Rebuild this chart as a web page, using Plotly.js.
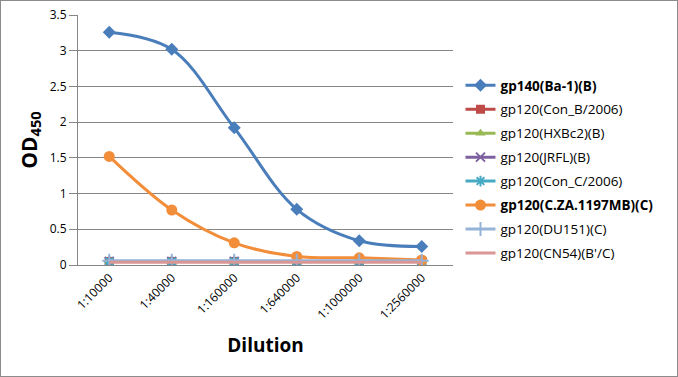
<!DOCTYPE html>
<html>
<head>
<meta charset="utf-8">
<script src="https://cdn.plot.ly/plotly-3.0.1.min.js"></script>
<style>
html,body{margin:0;padding:0;background:#fff;}
#chart{width:678px;height:377px;box-sizing:border-box;border:1px solid #8c8c8c;}
</style>
</head>
<body>
<div id="chart"></div>
<script>
const dilutions = ["1:10000","1:40000","1:160000","1:640000","1:1000000","1:2560000"];
const seriesNames = ["<b>gp140(Ba-1)(B)</b>","gp120(Con_B/2006)","gp120(HXBc2)(B)","gp120(JRFL)(B)","gp120(Con_C/2006)","<b>gp120(C.ZA.1197MB)(C)</b>","gp120(DU151)(C)","gp120(CN54)(B'/C)"];
const gp140_Ba1 = [3.26, 3.02, 1.92, 0.78, 0.34, 0.26];
const gp120_ConB = [0.05, 0.05, 0.05, 0.05, 0.05, 0.05];
const gp120_HXBc2 = [0.05, 0.05, 0.05, 0.05, 0.05, 0.05];
const gp120_JRFL = [0.05, 0.05, 0.05, 0.05, 0.05, 0.05];
const gp120_ConC = [0.05, 0.05, 0.05, 0.05, 0.05, 0.05];
const gp120_CZA = [1.52, 0.77, 0.31, 0.12, 0.10, 0.07];
const gp120_DU151 = [0.06, 0.06, 0.06, 0.06, 0.06, 0.06];
const gp120_CN54 = [0.04, 0.04, 0.04, 0.04, 0.04, 0.04];

const values = [gp140_Ba1, gp120_ConB, gp120_HXBc2, gp120_JRFL, gp120_ConC, gp120_CZA, gp120_DU151, gp120_CN54];
const colors = ["#4a7ebb","#be4b48","#98b954","#7d60a0","#46aac5","#f28d3a","#95b3d7","#d99694"];
const symbols = ["diamond","square","triangle-up","x-thin-open","asterisk-open","circle","cross-thin-open","none"];
const sizes = [10,9,9,9,9,11,10,0];

const traces = values.map((v,i)=>({
  type:"scatter",
  mode: symbols[i]==="none" ? "lines" : "lines+markers",
  x: dilutions,
  y: v,
  name: seriesNames[i],
  legendgroup: "g"+i,
  line:{color:colors[i], width:3, shape:"spline", smoothing:1},
  marker:{symbol:symbols[i], size:sizes[i], color:colors[i], line:{color:colors[i], width:(symbols[i].indexOf("open")>=0?2:0)}}
}));

const layout = {
  width:676, height:375,
  margin:{l:77, r:224, t:14, b:111},
  paper_bgcolor:"#fff", plot_bgcolor:"#fff",
  font:{family:"Open Sans, Liberation Sans, sans-serif", color:"#000", size:12},
  showlegend:true,
  legend:{x:1.02, y:0.78, xanchor:"left", yanchor:"top", font:{size:13.5, family:"Open Sans, sans-serif"}, tracegroupgap:3.4, itemwidth:30, bgcolor:"rgba(0,0,0,0)"},
  xaxis:{
    type:"category",
    tickangle:-45,
    tickfont:{size:12},
    showgrid:false,
    showline:true, linecolor:"#868686", linewidth:1,
    ticks:"",
    range:[-0.5,5.5],
    title:{text:"<b>Dilution</b>", font:{size:19}, standoff:17}
  },
  yaxis:{
    range:[0,3.5],
    dtick:0.5,
    showgrid:true, gridcolor:"#868686", gridwidth:1,
    showline:true, linecolor:"#868686", linewidth:1,
    ticks:"outside", ticklen:8, tickcolor:"#868686",
    tickfont:{size:12},
    zeroline:false,
    title:{text:"<b>OD<sub>450</sub></b>", font:{size:21}, standoff:6}
  }
};

Plotly.newPlot("chart", traces, layout, {displayModeBar:false, staticPlot:true});
</script>
</body>
</html>
